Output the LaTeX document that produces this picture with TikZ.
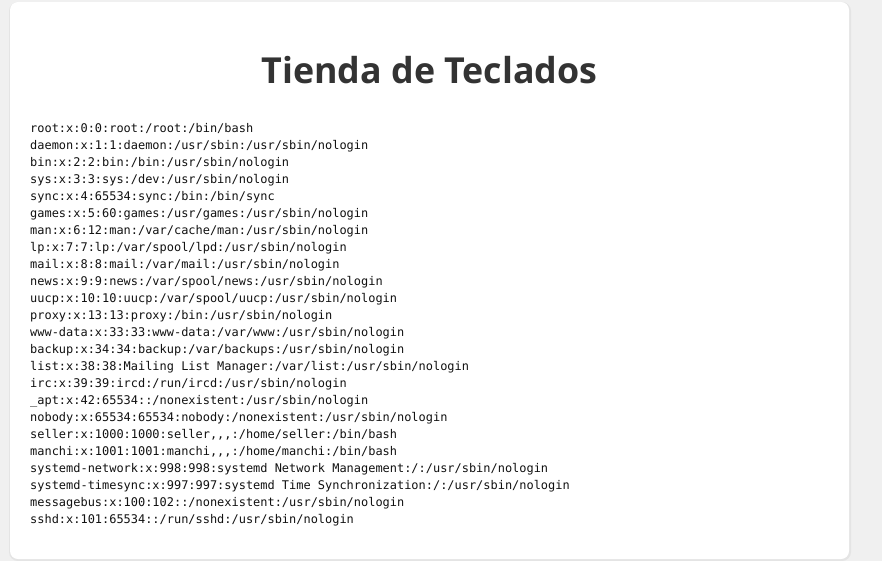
\documentclass[tikz,border=0pt]{standalone}
\usepackage{fontspec}
\setmainfont{Open Sans}
\setmonofont{DejaVu Sans Mono}
\definecolor{pagebg}{HTML}{F0F0F0}
\definecolor{shadowc}{HTML}{E4E4E4}
\definecolor{titlec}{HTML}{333333}
\definecolor{textc}{HTML}{111111}
\begin{document}
\begin{tikzpicture}[x=1pt,y=-1pt,
  ln/.style={anchor=base west,inner sep=0pt,text=textc,font=\ttfamily\fontsize{11.95}{17}\selectfont},
  ttl/.style={anchor=base,inner sep=0pt,text=titlec,font=\bfseries\fontsize{35.8}{40}\selectfont}]
\useasboundingbox (0,0) rectangle (882,561);
\fill[pagebg] (0,0) rectangle (882,561);
\fill[shadowc,rounded corners=9pt] (9,2) rectangle (851,561);
\fill[white,rounded corners=8pt] (10,2) rectangle (849,559);
\node[ttl] (title) at (429.5,83.3) {Tienda de Teclados};
\node[ln] (l1) at (30,132.5) {root:x:0:0:root:/root:/bin/bash};
\node[ln] (l2) at (30,149.5) {daemon:x:1:1:daemon:/usr/sbin:/usr/sbin/nologin};
\node[ln] (l3) at (30,166.5) {bin:x:2:2:bin:/bin:/usr/sbin/nologin};
\node[ln] (l4) at (30,183.5) {sys:x:3:3:sys:/dev:/usr/sbin/nologin};
\node[ln] (l5) at (30,200.5) {sync:x:4:65534:sync:/bin:/bin/sync};
\node[ln] (l6) at (30,217.5) {games:x:5:60:games:/usr/games:/usr/sbin/nologin};
\node[ln] (l7) at (30,234.5) {man:x:6:12:man:/var/cache/man:/usr/sbin/nologin};
\node[ln] (l8) at (30,251.5) {lp:x:7:7:lp:/var/spool/lpd:/usr/sbin/nologin};
\node[ln] (l9) at (30,268.5) {mail:x:8:8:mail:/var/mail:/usr/sbin/nologin};
\node[ln] (l10) at (30,285.5) {news:x:9:9:news:/var/spool/news:/usr/sbin/nologin};
\node[ln] (l11) at (30,302.5) {uucp:x:10:10:uucp:/var/spool/uucp:/usr/sbin/nologin};
\node[ln] (l12) at (30,319.5) {proxy:x:13:13:proxy:/bin:/usr/sbin/nologin};
\node[ln] (l13) at (30,336.5) {www-data:x:33:33:www-data:/var/www:/usr/sbin/nologin};
\node[ln] (l14) at (30,353.5) {backup:x:34:34:backup:/var/backups:/usr/sbin/nologin};
\node[ln] (l15) at (30,370.5) {list:x:38:38:Mailing List Manager:/var/list:/usr/sbin/nologin};
\node[ln] (l16) at (30,387.5) {irc:x:39:39:ircd:/run/ircd:/usr/sbin/nologin};
\node[ln] (l17) at (30,404.5) {\_apt:x:42:65534::/nonexistent:/usr/sbin/nologin};
\node[ln] (l18) at (30,421.5) {nobody:x:65534:65534:nobody:/nonexistent:/usr/sbin/nologin};
\node[ln] (l19) at (30,438.5) {seller:x:1000:1000:seller,,,:/home/seller:/bin/bash};
\node[ln] (l20) at (30,455.5) {manchi:x:1001:1001:manchi,,,:/home/manchi:/bin/bash};
\node[ln] (l21) at (30,472.5) {systemd-network:x:998:998:systemd Network Management:/:/usr/sbin/nologin};
\node[ln] (l22) at (30,489.5) {systemd-timesync:x:997:997:systemd Time Synchronization:/:/usr/sbin/nologin};
\node[ln] (l23) at (30,506.5) {messagebus:x:100:102::/nonexistent:/usr/sbin/nologin};
\node[ln] (l24) at (30,523.5) {sshd:x:101:65534::/run/sshd:/usr/sbin/nologin};
\end{tikzpicture}
\end{document}
